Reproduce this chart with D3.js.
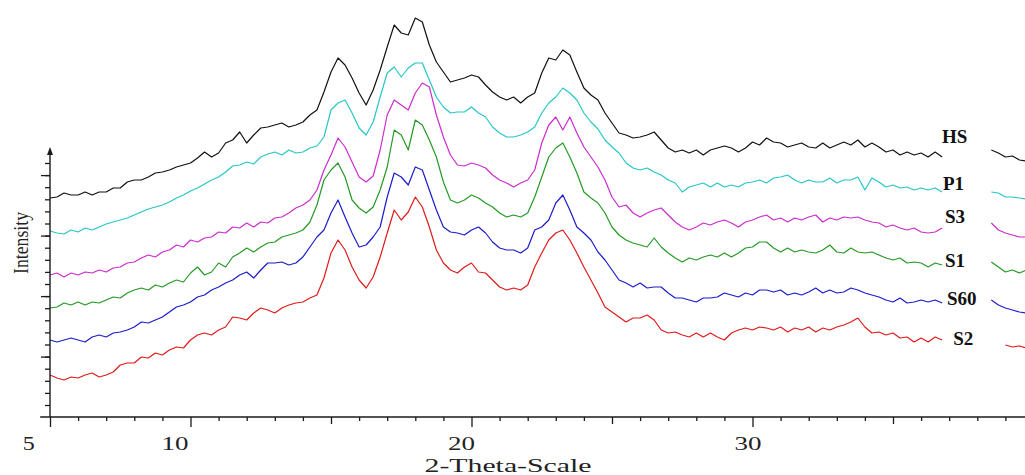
<!DOCTYPE html>
<html>
<head>
<meta charset="utf-8">
<script src="https://cdn.jsdelivr.net/npm/d3@7"></script>
<style>
  html, body { margin: 0; padding: 0; background: #fff; }
  svg { display: block; }
</style>
</head>
<body>
<div id="chart"></div>
<script>
// Samples every 0.25 deg 2-theta, from 5 to 36.75 and from 38.5 to 39.75
const mainThetas = d3.range(128).map(i => 5 + i * 0.25);
const tailThetas = d3.range(6).map(i => 38.5 + i * 0.25);

const seriesNames = ['HS', 'P1', 'S3', 'S1', 'S60', 'S2'];
const seriesColors = ['#111111', '#26c6c6', '#cc2ccc', '#249a24', '#1c1ccc', '#e01a1a'];

const hsMain = [
  802,803,807,805,805,808,805,808, 808,812,812,818,820,820,823,827,
  828,830,833,835,837,842,848,843, 847,857,860,868,857,865,872,873,
  875,877,873,875,878,885,890,908, 928,942,935,922,907,895,910,930,
  953,975,967,965,982,978,955,938, 928,918,920,922,925,923,915,908,
  903,900,903,897,903,907,927,942, 940,950,945,928,912,905,900,887,
  877,867,865,862,863,865,868,860, 852,848,850,847,850,845,850,852,
  854,852,848,852,858,855,862,858, 857,853,855,857,853,852,857,852,
  855,858,855,860,853,857,853,848, 850,845,848,845,847,843,848,843];
const hsTail = [850,847,843,844,840,839];

const p1Main = [
  769,767,766,770,768,772,770,773, 776,778,780,782,785,788,791,793,
  795,798,802,805,809,812,816,820, 823,828,834,835,838,836,843,846,
  848,845,850,847,848,852,854,863, 890,897,900,887,872,865,878,903,
  927,933,923,932,937,937,920,903, 893,887,888,888,893,887,883,873,
  867,863,863,865,868,873,887,897, 903,912,907,900,887,878,871,860,
  853,847,837,832,830,832,828,825, 820,817,808,813,815,817,813,817,
  813,815,813,817,818,820,817,822, 823,825,820,817,820,818,818,822,
  817,820,820,823,810,822,818,813, 815,812,813,810,812,810,812,808];
const p1Tail = [808,807,803,803,802,801];

const s3Main = [
  725,727,723,727,725,728,727,730, 728,732,733,737,738,742,745,743,
  748,750,755,753,760,758,762,763, 768,767,773,772,777,773,778,777,
  782,783,787,792,795,800,810,830, 845,862,853,838,823,818,824,850,
  885,900,895,890,907,917,913,885, 863,845,835,834,837,835,832,825,
  820,817,813,817,820,830,857,875, 883,870,883,867,853,843,833,820,
  803,793,795,787,783,787,790,792, 785,778,773,770,773,777,775,778,
  780,777,773,778,780,783,785,780, 782,778,782,780,783,785,778,782,
  780,783,782,783,780,778,777,773, 775,772,770,772,768,767,768,772];
const s3Tail = [777,770,767,765,763,763];

const s1Main = [
  692,693,697,695,698,695,698,697, 700,703,702,707,710,712,710,715,
  713,717,720,718,727,733,725,728, 737,733,743,747,752,748,753,757,
  758,763,765,767,770,778,795,820, 830,837,823,800,792,787,793,810,
  833,870,865,850,880,875,860,843, 818,800,797,800,805,802,797,793,
  787,783,785,783,787,803,823,843, 852,857,843,827,808,802,797,787,
  773,765,760,757,755,753,762,753, 747,742,738,742,740,743,745,743,
  747,743,747,752,753,758,758,752, 748,752,748,750,748,747,750,755,
  748,747,752,748,747,748,745,742, 740,742,737,738,737,733,737,735];
const s1Tail = [738,733,728,730,727,730];

const s60Main = [
  660,658,660,662,660,658,663,665, 663,667,668,670,673,678,677,680,
  683,688,693,695,698,703,705,710, 713,717,720,725,728,722,730,737,
  737,738,735,737,743,753,763,770, 787,800,783,767,753,755,763,773,
  803,827,823,815,833,830,810,790, 773,768,767,765,770,773,767,758,
  752,750,750,747,752,770,773,780, 797,805,790,773,767,760,748,740,
  730,720,717,713,717,712,713,713, 707,702,702,700,698,702,702,703,
  707,705,703,707,705,710,710,708, 710,705,707,705,708,712,707,710,
  707,708,712,710,707,705,703,700, 698,702,697,698,700,698,700,697];
const s60Tail = [700,695,692,690,688,687];

const s2Main = [
  625,622,620,623,622,625,627,623, 625,628,635,637,637,643,642,647,
  645,650,653,652,660,665,667,665, 670,673,683,682,680,687,692,690,
  687,692,695,697,698,702,705,722, 747,760,750,733,720,712,723,743,
  767,790,780,788,803,793,773,750, 737,730,727,733,737,728,727,720,
  713,710,712,710,715,733,747,760, 767,770,760,747,733,720,707,693,
  688,683,678,682,682,685,680,670, 667,668,665,663,667,663,667,663,
  660,667,670,672,670,673,672,670, 673,668,672,670,673,668,672,670,
  673,675,678,682,673,667,668,665, 667,662,663,658,662,658,663,660];
const s2Tail = [null,null,655,653,654,652];

const mainValues = [hsMain, p1Main, s3Main, s1Main, s60Main, s2Main];
const tailValues = [hsTail, p1Tail, s3Tail, s1Tail, s60Tail, s2Tail];

// label anchors (2-theta, intensity) for the sample names
const labelThetas = [36.74, 36.78, 36.85, 36.85, 36.92, 37.14];
const labelLevels = [857, 810, 777, 733, 695, 655];

const xTickLabels = [5, 10, 20, 30];

const width = 1025;
const height = 475;
const font = "'Liberation Serif', 'Times New Roman', serif";

const svg = d3.select('#chart')
  .append('svg')
  .attr('width', width)
  .attr('height', height)
  .style('background', '#fff');

const xScale = d3.scaleLinear().domain([5, 40]).range([50, 1033.5]);
const yScale = d3.scaleLinear().domain([583, 1000]).range([417, 0]);
// tick numbers sit a little apart from their ticks in the original
const labelScale = d3.scaleLinear().domain([10, 30]).range([175, 748]);

const axisColor = '#1a1a1a';
const y0 = yScale(583);

// patterns
const line = d3.line()
  .defined(d => d.v !== null)
  .x(d => xScale(d.t))
  .y(d => yScale(d.v));

seriesNames.forEach((name, i) => {
  const pts = mainValues[i].map((v, j) => ({ t: mainThetas[j], v }))
    .concat([{ t: 37.5, v: null }])
    .concat(tailValues[i].map((v, j) => ({ t: tailThetas[j], v })));
  svg.append('path')
    .datum(pts)
    .attr('fill', 'none')
    .attr('stroke', seriesColors[i])
    .attr('stroke-width', 1.2)
    .attr('stroke-linejoin', 'round')
    .attr('d', line);

  svg.append('text')
    .attr('x', xScale(labelThetas[i]))
    .attr('y', yScale(labelLevels[i]))
    .attr('font-family', font)
    .attr('font-weight', 'bold')
    .attr('font-size', 19)
    .attr('fill', '#111')
    .text(name);
});

// x axis
const xTicks = (values, size) => {
  svg.append('g')
    .attr('transform', `translate(0, ${y0})`)
    .call(d3.axisBottom(xScale).tickValues(values).tickSize(size).tickFormat(''))
    .call(g => g.select('.domain').remove())
    .call(g => g.selectAll('line').attr('stroke', axisColor).attr('stroke-width', 1.3));
};
xTicks(d3.range(6, 40).filter(v => v % 5 !== 0), 4);
xTicks([15, 25, 35], 7);
xTicks([5, 10, 20, 30], 10);

svg.append('line')
  .attr('x1', xScale(4.65)).attr('x2', width)
  .attr('y1', y0).attr('y2', y0)
  .attr('stroke', axisColor).attr('stroke-width', 1.4);

svg.append('g')
  .selectAll('text')
  .data(xTickLabels)
  .join('text')
  .attr('x', d => d === 5 ? labelScale(d) - 3 : labelScale(d))
  .attr('y', y0 + 33)
  .attr('text-anchor', 'middle')
  .attr('font-family', font)
  .attr('font-size', 18)
  .attr('fill', '#222')
  .attr('textLength', d => String(d).length * 15 - 3)
  .attr('lengthAdjust', 'spacingAndGlyphs')
  .text(d => d);

svg.append('text')
  .attr('x', xScale(21.3))
  .attr('y', y0 + 55)
  .attr('text-anchor', 'middle')
  .attr('font-family', font)
  .attr('font-size', 19)
  .attr('fill', '#222')
  .attr('textLength', 167)
  .attr('lengthAdjust', 'spacingAndGlyphs')
  .text('2-Theta-Scale');

// y axis, arbitrary units
const yMinor = d3.range(21).map(k => 595 + k * 12.1);
const yMajor = yMinor.filter((v, k) => k % 5 === 4);
const yTicks = (values, size) => {
  svg.append('g')
    .attr('transform', `translate(${xScale(5)}, 0)`)
    .call(d3.axisLeft(yScale).tickValues(values).tickSize(size).tickFormat(''))
    .call(g => g.select('.domain').remove())
    .call(g => g.selectAll('line').attr('stroke', axisColor).attr('stroke-width', 1.3));
};
yTicks(yMinor, 5);
yTicks(yMajor, 9);

svg.append('line')
  .attr('x1', xScale(5)).attr('x2', xScale(5))
  .attr('y1', y0).attr('y2', yScale(850))
  .attr('stroke', axisColor).attr('stroke-width', 1.4);

const ax = xScale(5);
svg.append('path')
  .attr('d', `M${ax},${yScale(853)} L${ax - 3},${yScale(845)} L${ax + 3},${yScale(845)} Z`)
  .attr('fill', axisColor);

svg.append('text')
  .attr('transform', `translate(28, 243) rotate(-90)`)
  .attr('text-anchor', 'middle')
  .attr('font-family', font)
  .attr('font-size', 22)
  .attr('fill', '#222')
  .attr('textLength', 62)
  .attr('lengthAdjust', 'spacingAndGlyphs')
  .text('Intensity');
</script>
</body>
</html>
